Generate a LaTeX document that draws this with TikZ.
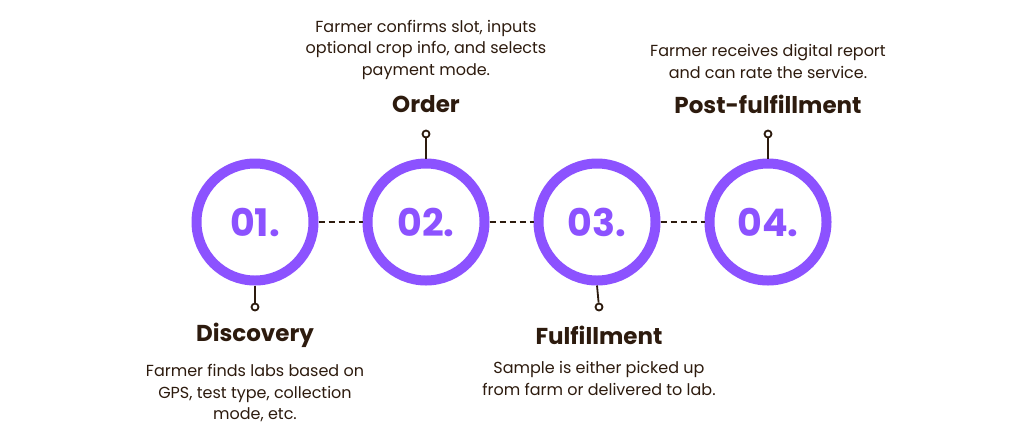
\documentclass[tikz,border=0pt]{standalone}
\usepackage{fontspec}
\setmainfont{Poppins}
\usetikzlibrary{positioning}
\definecolor{Violet}{HTML}{8C52FF}
\definecolor{Ink}{HTML}{2D1B0E}
\begin{document}
\begin{tikzpicture}[x=1pt,y=-1pt,
    ring/.style={circle,draw=Violet,line width=10pt,minimum size=117pt,fill=white,
      text=Violet,font=\fontsize{38}{38}\selectfont\bfseries},
    pin/.style={circle,draw=Ink,line width=1.8pt,fill=white,minimum size=7pt,inner sep=0pt},
    stem/.style={draw=Ink,line width=1.8pt},
    link/.style={draw=Ink,line width=1.5pt,dash pattern=on 6pt off 4pt},
    title/.style={text=Ink,font=\fontsize{23}{23}\selectfont\bfseries},
    blurb/.style={text=Ink,align=center,font=\fontsize{16}{21.5}\selectfont}]
  \useasboundingbox[fill=white](0,0)rectangle(1024,440);
  % circles
  \node[ring](c1)at(255,222){01.};
  \node[ring](c2)at(426,222){02.};
  \node[ring](c3)at(597,222){03.};
  \node[ring](c4)at(768,222){04.};
  \foreach \a/\b in {c1/c2,c2/c3,c3/c4}
    \draw[link](\a.east)--(\b.west);
  % pins
  \node[pin](p1)at(255,307){};
  \node[pin](p2)at(426,134){};
  \node[pin](p3)at(599,307){};
  \node[pin](p4)at(768,134){};
  \draw[stem](c1.south)--(p1);
  \draw[stem](c2.north)--(p2);
  \draw[stem](c3.south)--(p3);
  \draw[stem](c4.north)--(p4);
  % texts
  \node[title](t1)at(255,335){Discovery};
  \node[title](t2)at(426,104){Order};
  \node[title](t3)at(599,335){Fulfillment};
  \node[title](t4)at(768,104){Post-fulfillment};
  \node[blurb,below=10pt of t1]{Farmer finds labs based on\\GPS, test type, collection\\mode, etc.};
  \node[blurb,above=9pt of t2]{Farmer confirms slot, inputs\\optional crop info, and selects\\payment mode.};
  \node[blurb,below=10pt of t3]{Sample is either picked up\\from farm or delivered to lab.};
  \node[blurb,above=9pt of t4]{Farmer receives digital report\\and can rate the service.};
\end{tikzpicture}
\end{document}
